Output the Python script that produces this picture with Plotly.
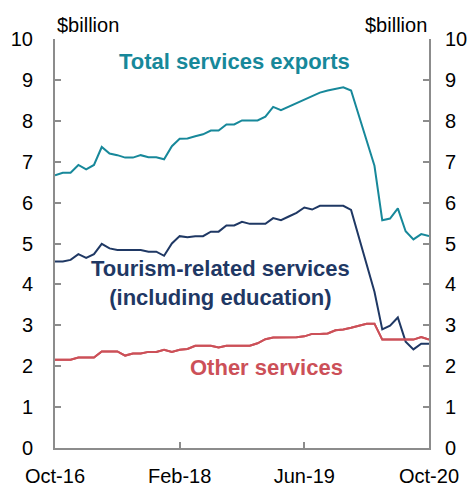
import plotly.graph_objects as go

months = list(range(49))
tick_positions = [0, 16, 32, 48]
tick_labels = ["Oct-16", "Feb-18", "Jun-19", "Oct-20"]

total = [6.67, 6.73, 6.73, 6.92, 6.81, 6.92, 7.36, 7.20, 7.16, 7.10,
         7.10, 7.16, 7.11, 7.11, 7.06, 7.38, 7.56, 7.57, 7.62, 7.67,
         7.76, 7.76, 7.91, 7.91, 8.01, 8.01, 8.01, 8.10, 8.34, 8.26,
         8.35, 8.44, 8.53, 8.60, 8.69, 8.74, 8.78, 8.82, 8.74, 8.13,
         7.51, 6.90, 5.57, 5.61, 5.86, 5.30, 5.10, 5.23, 5.18]

tourism = [4.56, 4.56, 4.60, 4.74, 4.65, 4.74, 4.99, 4.88, 4.84, 4.84,
           4.84, 4.84, 4.80, 4.80, 4.70, 5.00, 5.18, 5.15, 5.18, 5.18,
           5.29, 5.29, 5.44, 5.44, 5.53, 5.48, 5.48, 5.48, 5.62, 5.57,
           5.66, 5.75, 5.88, 5.83, 5.92, 5.92, 5.92, 5.92, 5.82, 5.15,
           4.49, 3.82, 2.90, 2.99, 3.19, 2.60, 2.41, 2.55, 2.55]

other = [2.16, 2.16, 2.16, 2.21, 2.21, 2.21, 2.36, 2.36, 2.36, 2.26,
         2.31, 2.31, 2.35, 2.35, 2.40, 2.35, 2.40, 2.42, 2.50, 2.50,
         2.50, 2.46, 2.50, 2.50, 2.50, 2.50, 2.56, 2.66, 2.70, 2.70,
         2.70, 2.71, 2.73, 2.79, 2.79, 2.80, 2.88, 2.90, 2.94, 2.99,
         3.04, 3.04, 2.65, 2.65, 2.65, 2.65, 2.65, 2.71, 2.65]

TEAL = "#17889A"
NAVY = "#1F3864"
RED = "#CC5058"
AXIS = "#8C8C8C"
FONT = "Liberation Sans"

fig = go.Figure()
fig.add_trace(go.Scatter(x=months, y=total, mode="lines",
                         line=dict(color=TEAL, width=2), showlegend=False))
fig.add_trace(go.Scatter(x=months, y=tourism, mode="lines",
                         line=dict(color=NAVY, width=2), showlegend=False))
fig.add_trace(go.Scatter(x=months, y=other, mode="lines",
                         line=dict(color=RED, width=2), showlegend=False))
fig.add_trace(go.Scatter(x=months, y=other, mode="lines", yaxis="y2",
                         line=dict(color=RED, width=2), showlegend=False,
                         hoverinfo="skip"))

yax = dict(range=[0, 10], tickvals=list(range(11)), showgrid=False,
           zeroline=False, showline=True, linecolor=AXIS, linewidth=2,
           ticks="inside", ticklen=6, tickwidth=2, tickcolor=AXIS,
           automargin=False,
           tickfont=dict(family=FONT, size=20, color="#000"))

fig.update_layout(
    width=473, height=486,
    margin=dict(l=55, r=44, t=39, b=38, autoexpand=False),
    paper_bgcolor="white", plot_bgcolor="white",
    xaxis=dict(range=[0, 48], tickvals=tick_positions, ticktext=tick_labels,
               showgrid=False, zeroline=False, showline=True, linecolor=AXIS,
               linewidth=2, ticks="inside", ticklen=6, tickwidth=2,
               tickcolor=AXIS, ticklabelstandoff=9, automargin=False,
               tickfont=dict(family=FONT, size=20, color="#000")),
    yaxis=dict(**yax, side="left", ticklabelstandoff=16),
    yaxis2=dict(**yax, side="right", overlaying="y", matches="y",
                ticklabelstandoff=10),
    annotations=[
        dict(x=0, y=10, xref="x", yref="y", text="$billion", showarrow=False,
             xanchor="left", yanchor="bottom", yshift=1,
             font=dict(family=FONT, size=20, color="#000")),
        dict(x=48, y=10, xref="x", yref="y", text="$billion", showarrow=False,
             xanchor="right", yanchor="bottom", yshift=1,
             font=dict(family=FONT, size=20, color="#000")),
        dict(x=23, y=9.46, xref="x", yref="y", text="<b>Total services exports</b>",
             showarrow=False, font=dict(family=FONT, size=22, color=TEAL)),
        dict(x=21.2, y=4.04, xref="x", yref="y",
             text="<b>Tourism-related services<br>(including education)</b>",
             showarrow=False, font=dict(family=FONT, size=22, color=NAVY)),
        dict(x=27.1, y=1.96, xref="x", yref="y", text="<b>Other services</b>",
             showarrow=False, font=dict(family=FONT, size=22, color=RED)),
    ],
)

fig.write_html("out.html")
